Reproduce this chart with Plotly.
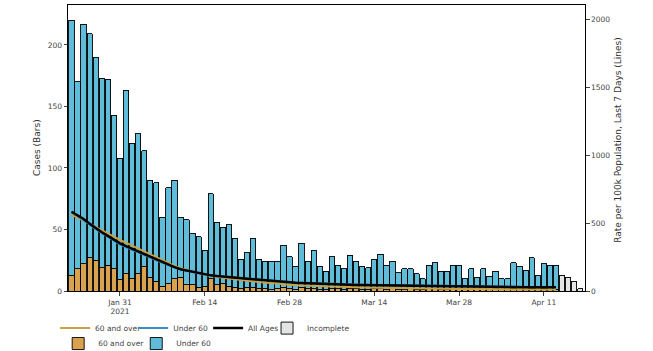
import plotly.graph_objects as go
import pandas as pd

start_date = "2021-01-23"

over_60_cases = [13, 18, 22, 27, 25, 19, 21, 18, 9, 14, 10, 14, 20, 11, 8, 4, 6, 10, 11, 5,
                 5, 3, 4, 10, 5, 6, 4, 3, 2, 3, 3, 2, 2, 1, 2, 3, 2, 1, 3, 2,
                 2, 1, 1, 2, 2, 1, 2, 2, 1, 1, 2, 2, 1, 2, 1, 1, 2, 1, 1, 2,
                 2, 1, 1, 2, 1, 1, 2, 1, 1, 1, 2, 1, 1, 2, 1, 1, 2, 1, 2, 1, 1]

under_60_cases = [207, 152, 195, 182, 165, 154, 151, 125, 99, 149, 110, 114, 94, 79, 80, 56, 78, 80, 49, 53,
                  42, 41, 29, 69, 51, 46, 50, 40, 24, 28, 40, 24, 22, 23, 22, 34, 26, 19, 36, 22,
                  31, 19, 15, 26, 19, 17, 27, 22, 19, 18, 24, 28, 20, 22, 14, 17, 16, 13, 9, 19,
                  21, 15, 15, 19, 20, 9, 16, 10, 17, 11, 14, 9, 9, 21, 19, 16, 25, 12, 20, 20, 20]

incomplete_cases = [13, 11, 8, 2]

rate_all_ages = [583, 555, 530, 495, 461, 432, 405, 378, 350, 330, 310, 290, 270, 250, 230, 210, 192, 175, 160, 150,
                 140, 131, 122, 115, 110, 105, 100, 97, 94, 90, 86, 82, 78, 73, 68, 65, 62, 60, 58, 56,
                 54, 52, 50, 49, 48, 47, 46, 45, 44, 43, 42, 42, 41, 41, 40, 40, 39, 38, 38, 37,
                 37, 36, 36, 35, 35, 34, 33, 32, 31, 30, 30, 29, 28, 28, 28, 28, 28, 28, 28, 28, 28]

rate_60_over = [560, 540, 520, 495, 470, 445, 420, 398, 375, 355, 335, 315, 292, 270, 248, 226, 205, 185, 168, 154,
                142, 131, 120, 110, 104, 98, 92, 86, 80, 74, 70, 66, 62, 57, 52, 48, 45, 42, 40, 38,
                36, 34, 32, 31, 30, 29, 28, 27, 26, 25, 24, 23, 22, 22, 21, 20, 20, 19, 18, 18,
                17, 17, 16, 16, 15, 15, 14, 14, 14, 13, 13, 13, 12, 12, 12, 12, 11, 11, 11, 11, 11]

rate_under_60 = [580, 550, 525, 490, 455, 425, 398, 370, 342, 322, 302, 283, 264, 245, 226, 207, 190, 173, 158, 149,
                 139, 131, 122, 116, 111, 106, 101, 98, 95, 92, 88, 84, 80, 75, 70, 67, 64, 62, 60, 58,
                 56, 54, 52, 51, 50, 49, 48, 47, 46, 45, 44, 44, 43, 43, 42, 42, 41, 40, 40, 39,
                 39, 38, 38, 37, 37, 36, 35, 34, 33, 32, 32, 31, 30, 30, 30, 30, 30, 30, 30, 30, 30]

tick_dates = ["2021-01-31", "2021-02-14", "2021-02-28", "2021-03-14", "2021-03-28", "2021-04-11"]
tick_labels = ["Jan 31<br>2021", "Feb 14", "Feb 28", "Mar 14", "Mar 28", "Apr 11"]
left_ticks = [0, 50, 100, 150, 200]
right_ticks = [0, 500, 1000, 1500, 2000]

dates = pd.date_range(start_date, periods=len(over_60_cases))
inc_dates = pd.date_range(dates[-1] + pd.Timedelta(days=1), periods=len(incomplete_cases))

DAY_MS = 86400000
bw = DAY_MS * 0.88
ORANGE = "#d9a24f"
BLUE = "#5fbdd9"
ORANGE_LINE = "#c9a042"
BLUE_LINE = "#3a8fc2"

fig = go.Figure()

fig.add_trace(go.Bar(x=dates, y=over_60_cases, name="60 and over", width=bw,
                     marker=dict(color=ORANGE, line=dict(color="black", width=0.9)),
                     legend="legend5"))
fig.add_trace(go.Bar(x=dates, y=under_60_cases, name="Under 60", width=bw,
                     marker=dict(color=BLUE, line=dict(color="black", width=0.9)),
                     legend="legend6"))
fig.add_trace(go.Bar(x=inc_dates, y=incomplete_cases, name="Incomplete", width=bw,
                     marker=dict(color="#e4e4e4", line=dict(color="black", width=0.9)),
                     legend="legend4"))
fig.add_trace(go.Scatter(x=dates, y=rate_60_over, mode="lines", name="60 and over",
                         line=dict(color=ORANGE_LINE, width=2), yaxis="y2", legend="legend"))
fig.add_trace(go.Scatter(x=dates, y=rate_under_60, mode="lines", name="Under 60",
                         line=dict(color=BLUE_LINE, width=2), yaxis="y2", legend="legend2"))
fig.add_trace(go.Scatter(x=dates, y=rate_all_ages, mode="lines", name="All Ages",
                         line=dict(color="black", width=2.5), yaxis="y2", legend="legend3"))

tick_font = dict(family="DejaVu Sans", size=7.5, color="#444")
legend_common = dict(orientation="v", xanchor="left", yanchor="top",
                     traceorder="normal",
                     bgcolor="rgba(0,0,0,0)", font=dict(family="DejaVu Sans", size=7.5, color="#444"),
                     tracegroupgap=0, itemwidth=30)
row1_y = -0.079
row2_y = -0.133

fig.update_layout(
    width=653, height=351,
    margin=dict(l=68, r=68, t=5, b=60, autoexpand=False),
    paper_bgcolor="white", plot_bgcolor="white",
    barmode="stack", bargap=0.1,
    xaxis=dict(type="date", range=["2021-01-22 10:00", "2021-04-17 19:00"],
               tickvals=tick_dates, ticktext=tick_labels, ticks="outside", ticklen=3.5,
               tickcolor="#444", showline=True, mirror=True, linecolor="black", linewidth=1,
               showgrid=False, zeroline=False, tickfont=tick_font),
    yaxis=dict(range=[0, 232.5], tickvals=left_ticks, ticks="outside", ticklen=3.5,
               tickcolor="#444", showline=True, linecolor="black", linewidth=1,
               showgrid=False, zeroline=False, tickfont=tick_font),
    yaxis2=dict(range=[0, 2103], tickvals=right_ticks, overlaying="y", side="right",
                ticks="outside", ticklen=3.5, tickcolor="#444", showline=True,
                linecolor="black", linewidth=1, showgrid=False, zeroline=False,
                tickfont=tick_font),
    showlegend=True,
    legend=dict(x=-0.025, y=row1_y, **legend_common),
    legend2=dict(x=0.126, y=row1_y, **legend_common),
    legend3=dict(x=0.271, y=row1_y, **legend_common),
    legend4=dict(x=0.385, y=row1_y, **legend_common),
    legend5=dict(x=-0.019, y=row2_y, **legend_common),
    legend6=dict(x=0.132, y=row2_y, **legend_common),
    annotations=[
        dict(text="Cases (Bars)", x=-0.0735, y=0.5, xref="paper", yref="paper",
             textangle=-90, showarrow=False, font=dict(family="DejaVu Sans", size=9, color="#333")),
        dict(text="Rate per 100k Population, Last 7 Days (Lines)", x=1.077, y=0.528,
             xref="paper", yref="paper", textangle=-90, showarrow=False,
             font=dict(family="DejaVu Sans", size=9, color="#333")),
    ],
)

fig.write_html("out.html", config={"displayModeBar": False},
               post_script="document.body.style.margin='0px';")
